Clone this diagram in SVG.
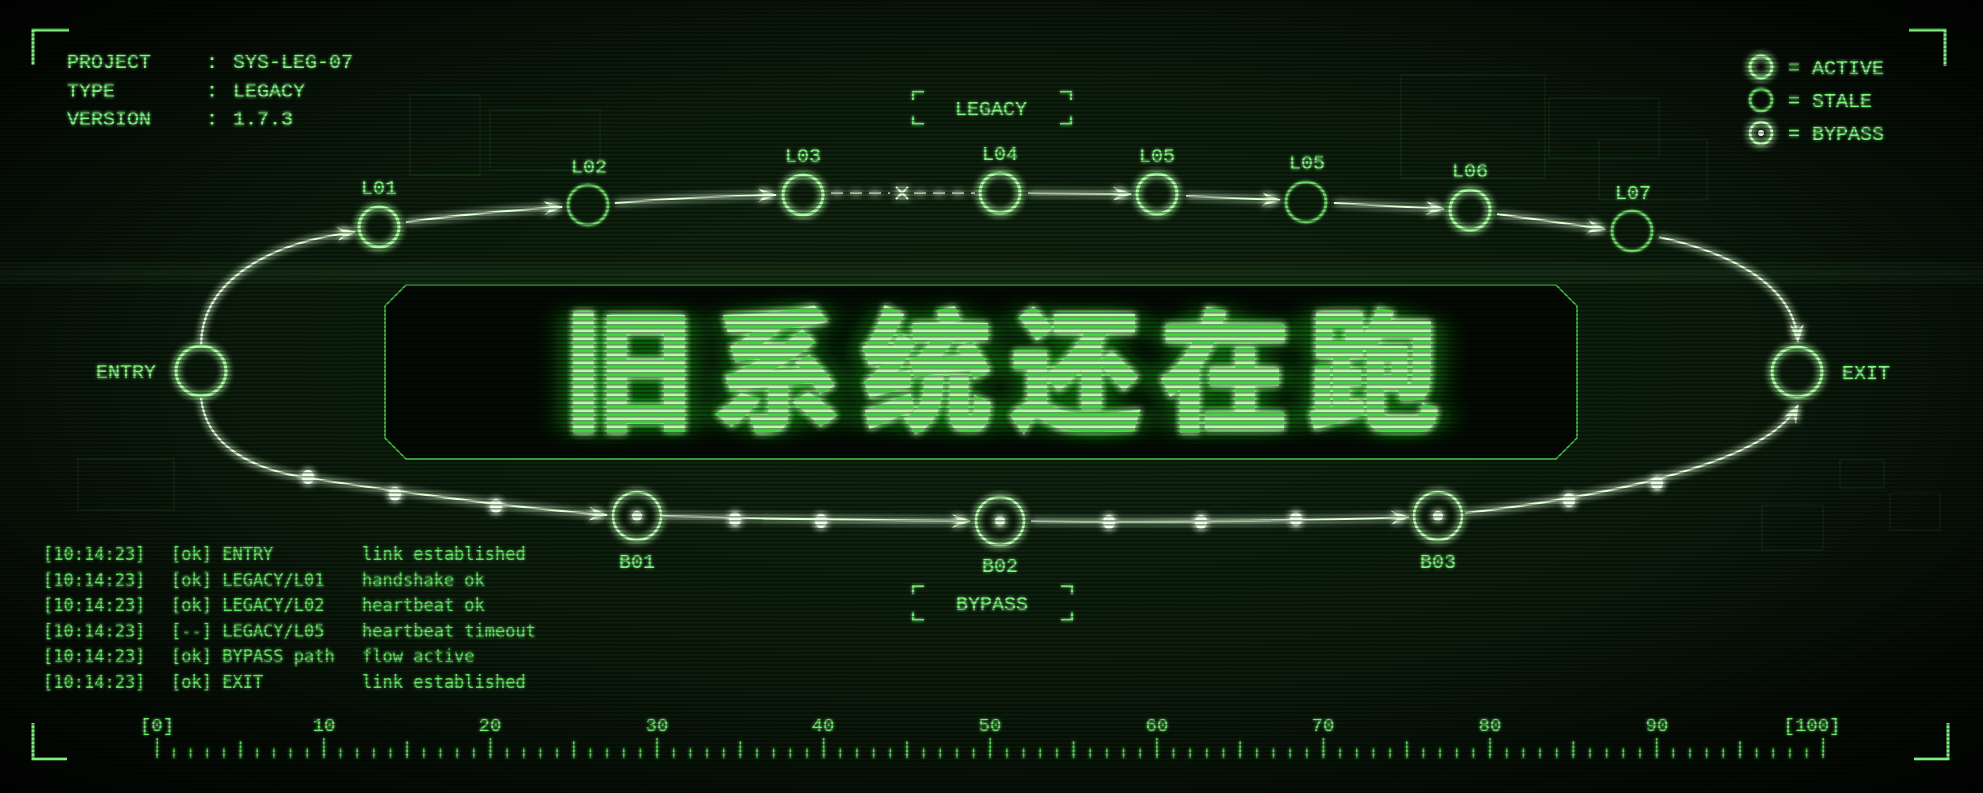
<svg xmlns="http://www.w3.org/2000/svg" width="1983" height="793" viewBox="0 0 1983 793">
<style>
.lbl{font-family:"Liberation Mono","DejaVu Sans Mono",monospace;font-size:20px;fill:#7ff77f}
.mid{text-anchor:middle}
.end{text-anchor:end}
.log{font-family:"DejaVu Sans Mono","Liberation Mono",monospace;font-size:17px;fill:#62e262}
.rl{font-family:"Liberation Mono","DejaVu Sans Mono",monospace;font-size:19px;fill:#6fe86f;text-anchor:middle}
.act{fill:none;stroke:#a8ffa0;stroke-width:3}
.stale{fill:none;stroke:#6cd866;stroke-width:2.6}
.byp{fill:none;stroke:#bbffb3;stroke-width:2.6}
.core{fill:#e0ffda}
.wire{fill:none;stroke:#dcffd4;stroke-width:2.2}
.dash{stroke-dasharray:12 7}
.dot{fill:#eaffe6}
.brk{fill:none;stroke:#6fe86f;stroke-width:2}
.corner{fill:none;stroke:#7ef07e;stroke-width:3}
.ghost{fill:none;stroke:#2f6a2f;stroke-width:1.5;opacity:.25}
.tick{fill:none;stroke:#55d455}
</style>
<defs>
<radialGradient id="bgGrad" cx=".5" cy=".45" r=".6">
<stop offset="0" stop-color="#11280f"/>
<stop offset=".7" stop-color="#0b1c0b"/>
<stop offset="1" stop-color="#071207"/>
</radialGradient>
<radialGradient id="vig" cx=".5" cy=".5" r=".72">
<stop offset=".55" stop-color="#000" stop-opacity="0"/>
<stop offset=".85" stop-color="#000" stop-opacity=".45"/>
<stop offset="1" stop-color="#000" stop-opacity=".95"/>
</radialGradient>
<pattern id="scan" width="4" height="4" patternUnits="userSpaceOnUse">
<rect width="4" height="1.6" fill="#000" opacity=".4"/>
</pattern>
<pattern id="tstripe" width="10" height="8" patternUnits="userSpaceOnUse">
<rect width="10" height="8" fill="#38dc38"/>
<rect width="10" height="5.5" fill="#b4ffa8"/>
</pattern>
<filter id="glow" filterUnits="userSpaceOnUse" x="0" y="0" width="1983" height="793">
<feGaussianBlur in="SourceGraphic" stdDeviation="3.5" result="b"/>
<feMerge><feMergeNode in="b"/><feMergeNode in="b"/><feMergeNode in="SourceGraphic"/></feMerge>
</filter>
<filter id="soft" filterUnits="userSpaceOnUse" x="0" y="0" width="1983" height="793">
<feGaussianBlur in="SourceGraphic" stdDeviation="1.6" result="b"/>
<feMerge><feMergeNode in="b"/><feMergeNode in="SourceGraphic"/></feMerge>
</filter>
<filter id="tglow" filterUnits="userSpaceOnUse" x="0" y="0" width="1983" height="793">
<feGaussianBlur in="SourceAlpha" stdDeviation="18 9" result="a"/>
<feFlood flood-color="#1fe01f" flood-opacity="1"/>
<feComposite in2="a" operator="in" result="halo"/>
<feGaussianBlur in="SourceGraphic" stdDeviation="3" result="b"/>
<feMerge><feMergeNode in="halo"/><feMergeNode in="b"/><feMergeNode in="b"/><feMergeNode in="SourceGraphic"/></feMerge>
</filter>
<marker id="arr" viewBox="-20 -10 22 20" refX="0" refY="0" markerWidth="22" markerHeight="20" markerUnits="userSpaceOnUse" orient="auto">
<path d="M1,0 L-18,-7 L-11,0 L-18,7 Z" fill="#dcffd4"/>
</marker>
</defs>

<g id="background">
<rect width="1983" height="793" fill="#081508"/>
<rect width="1983" height="793" fill="url(#bgGrad)"/>
<rect x="410" y="95" width="70" height="80" class="ghost"/>
<rect x="490" y="110" width="110" height="60" class="ghost"/>
<rect x="1401" y="75" width="144" height="103" class="ghost"/>
<rect x="1549" y="98" width="110" height="60" class="ghost"/>
<rect x="1599" y="140" width="108" height="60" class="ghost"/>
<rect x="78" y="459" width="96" height="51" class="ghost"/>
<rect x="1840" y="460" width="44" height="28" class="ghost"/>
<rect x="1890" y="493" width="50" height="37" class="ghost"/>
<rect x="1762" y="505" width="61" height="45" class="ghost"/>
<rect x="0" y="262" width="1983" height="22" fill="#2f5f2f" opacity=".16"/>
<rect x="0" y="272" width="1983" height="2" fill="#4a8a4a" opacity=".15"/>
<rect width="1983" height="793" fill="url(#vig)"/>
</g>

<g id="hud">
<path class="corner" d="M33,65 V30 H69"/>
<path class="corner" d="M1909,30 H1945 V66"/>
<path class="corner" d="M33,723 V759 H67"/>
<path class="corner" d="M1948,723 V759 H1914"/>
<g class="lbl" filter="url(#soft)">
<text x="67" y="68">PROJECT</text><text x="206" y="68">:</text><text x="233" y="68">SYS-LEG-07</text>
<text x="67" y="97">TYPE</text><text x="206" y="97">:</text><text x="233" y="97">LEGACY</text>
<text x="67" y="125">VERSION</text><text x="206" y="125">:</text><text x="233" y="125">1.7.3</text>
</g>
</g>

<g id="legend">
<circle cx="1761" cy="67" r="11" class="act" stroke-width="2.5" filter="url(#glow)"/>
<circle cx="1761" cy="100" r="11" class="stale" stroke-width="2.2" filter="url(#soft)"/>
<circle cx="1761" cy="133" r="11" class="byp" stroke-width="2.2" filter="url(#glow)"/>
<circle cx="1761" cy="133" r="3" class="core"/>
<g class="lbl" filter="url(#soft)">
<text x="1788" y="74">= ACTIVE</text>
<text x="1788" y="107">= STALE</text>
<text x="1788" y="140">= BYPASS</text>
</g>
</g>

<g id="group-legacy" filter="url(#soft)">
<path class="brk" d="M924,92 H913 V100 M1060,92 H1071 V100 M913,116 V124 H924 M1071,116 V124 H1060"/>
<text class="lbl mid" x="991" y="115">LEGACY</text>
</g>
<g id="group-bypass" filter="url(#soft)">
<path class="brk" d="M924,586 H913 V594 M1061,586 H1072 V594 M913,612 V620 H924 M1072,612 V620 H1061"/>
<text class="lbl mid" x="992" y="610">BYPASS</text>
</g>

<g id="title">
<polygon points="406,285 1556,285 1577,306 1577,438 1556,459 406,459 385,438 385,306" fill="#020702" fill-opacity=".9" stroke="#45c845" stroke-width="1.6"/>
<text x="563" y="420" font-family="'Noto Sans CJK SC','Noto Sans CJK TC',sans-serif" font-weight="900" font-size="132" letter-spacing="17" fill="url(#tstripe)" filter="url(#tglow)">旧系统还在跑</text>
</g>

<g id="connectors" filter="url(#glow)">
<path class="wire" d="M201,346 C201,285 262,243 355,232" marker-end="url(#arr)"/>
<path class="wire" d="M406,222 Q480,212 562,207" marker-end="url(#arr)"/>
<path class="wire" d="M615,203 Q700,196 776,195" marker-end="url(#arr)"/>
<path class="wire dash" d="M831,193 H890"/>
<path class="wire" d="M896,187 L908,199 M908,187 L896,199"/>
<path class="wire dash" d="M914,193 H975"/>
<path class="wire" d="M1028,193 L1131,194" marker-end="url(#arr)"/>
<path class="wire" d="M1186,196 L1280,200" marker-end="url(#arr)"/>
<path class="wire" d="M1334,203 L1444,209" marker-end="url(#arr)"/>
<path class="wire" d="M1497,214 L1605,229" marker-end="url(#arr)"/>
<path class="wire" d="M1659,237 C1740,255 1795,290 1798,342" marker-end="url(#arr)"/>
<path class="wire" d="M201,398 C206,445 250,469 308,478 S520,509 607,515" marker-end="url(#arr)"/>
<path class="wire" d="M661,516 Q820,520 970,521" marker-end="url(#arr)"/>
<path class="wire" d="M1031,521 Q1250,523 1409,517" marker-end="url(#arr)"/>
<path class="wire" d="M1465,513 C1620,495 1770,460 1798,405" marker-end="url(#arr)"/>
<ellipse class="dot" cx="308" cy="477" rx="6" ry="7"/>
<ellipse class="dot" cx="395" cy="494" rx="6" ry="7"/>
<ellipse class="dot" cx="496" cy="506" rx="6" ry="7"/>
<ellipse class="dot" cx="735" cy="519" rx="6" ry="7"/>
<ellipse class="dot" cx="821" cy="521" rx="6" ry="7"/>
<ellipse class="dot" cx="1109" cy="522" rx="6" ry="7"/>
<ellipse class="dot" cx="1201" cy="522" rx="6" ry="7"/>
<ellipse class="dot" cx="1296" cy="519" rx="6" ry="7"/>
<ellipse class="dot" cx="1569" cy="500" rx="6" ry="7"/>
<ellipse class="dot" cx="1657" cy="483" rx="6" ry="7"/>
</g>

<g id="node-ENTRY">
<circle cx="201" cy="371" r="25" class="act" filter="url(#glow)"/>
<text class="lbl end" x="156" y="378" filter="url(#soft)">ENTRY</text>
</g>
<g id="node-EXIT">
<circle cx="1797" cy="372" r="25" class="act" filter="url(#glow)"/>
<text class="lbl" x="1842" y="379" filter="url(#soft)">EXIT</text>
</g>
<g id="node-L01">
<circle cx="379" cy="227" r="20" class="act" filter="url(#glow)"/>
<text class="lbl mid" x="379" y="194" filter="url(#soft)">L01</text>
</g>
<g id="node-L02">
<circle cx="588" cy="205" r="20" class="stale" filter="url(#soft)"/>
<text class="lbl mid" x="589" y="173" filter="url(#soft)">L02</text>
</g>
<g id="node-L03">
<circle cx="803" cy="195" r="20" class="act" filter="url(#glow)"/>
<text class="lbl mid" x="803" y="162" filter="url(#soft)">L03</text>
</g>
<g id="node-L04">
<circle cx="1000" cy="193" r="20" class="act" filter="url(#glow)"/>
<text class="lbl mid" x="1000" y="160" filter="url(#soft)">L04</text>
</g>
<g id="node-L05a">
<circle cx="1157" cy="194" r="20" class="act" filter="url(#glow)"/>
<text class="lbl mid" x="1157" y="162" filter="url(#soft)">L05</text>
</g>
<g id="node-L05b">
<circle cx="1306" cy="202" r="20" class="stale" filter="url(#soft)"/>
<text class="lbl mid" x="1307" y="169" filter="url(#soft)">L05</text>
</g>
<g id="node-L06">
<circle cx="1470" cy="210" r="20" class="act" filter="url(#glow)"/>
<text class="lbl mid" x="1470" y="177" filter="url(#soft)">L06</text>
</g>
<g id="node-L07">
<circle cx="1632" cy="231" r="20" class="stale" filter="url(#soft)"/>
<text class="lbl mid" x="1633" y="199" filter="url(#soft)">L07</text>
</g>
<g id="node-B01">
<circle cx="637" cy="516" r="24" class="byp" filter="url(#glow)"/>
<circle cx="637" cy="516" r="5" class="core" filter="url(#glow)"/>
<text class="lbl mid" x="637" y="568" filter="url(#soft)">B01</text>
</g>
<g id="node-B02">
<circle cx="1000" cy="521" r="24" class="byp" filter="url(#glow)"/>
<circle cx="1000" cy="521" r="5" class="core" filter="url(#glow)"/>
<text class="lbl mid" x="1000" y="572" filter="url(#soft)">B02</text>
</g>
<g id="node-B03">
<circle cx="1438" cy="516" r="24" class="byp" filter="url(#glow)"/>
<circle cx="1438" cy="516" r="5" class="core" filter="url(#glow)"/>
<text class="lbl mid" x="1438" y="568" filter="url(#soft)">B03</text>
</g>

<g id="log" class="log" filter="url(#soft)">
<text x="43" y="560">[10:14:23]</text><text x="171" y="560">[ok] ENTRY</text><text x="362" y="560">link established</text>
<text x="43" y="586">[10:14:23]</text><text x="171" y="586">[ok] LEGACY/L01</text><text x="362" y="586">handshake ok</text>
<text x="43" y="611">[10:14:23]</text><text x="171" y="611">[ok] LEGACY/L02</text><text x="362" y="611">heartbeat ok</text>
<text x="43" y="637">[10:14:23]</text><text x="171" y="637">[--] LEGACY/L05</text><text x="362" y="637">heartbeat timeout</text>
<text x="43" y="662">[10:14:23]</text><text x="171" y="662">[ok] BYPASS path</text><text x="362" y="662">flow active</text>
<text x="43" y="688">[10:14:23]</text><text x="171" y="688">[ok] EXIT</text><text x="362" y="688">link established</text>
</g>

<g id="ruler" filter="url(#soft)">
<path class="tick" d="M156.5,753 H1825" stroke-width="10" stroke-dasharray="1.5 15.16"/>
<path class="tick" d="M239.8,749.5 H1742" stroke-width="17" stroke-dasharray="1.5 165.1"/>
<path class="tick" d="M156.5,748 H1825" stroke-width="20" stroke-dasharray="1.5 165.1"/>
<text class="rl" x="157" y="731">[0]</text>
<text class="rl" x="324" y="731">10</text>
<text class="rl" x="490" y="731">20</text>
<text class="rl" x="657" y="731">30</text>
<text class="rl" x="823" y="731">40</text>
<text class="rl" x="990" y="731">50</text>
<text class="rl" x="1157" y="731">60</text>
<text class="rl" x="1323" y="731">70</text>
<text class="rl" x="1490" y="731">80</text>
<text class="rl" x="1657" y="731">90</text>
<text class="rl" x="1812" y="731">[100]</text>
</g>

<rect id="scanlines" width="1983" height="793" fill="url(#scan)" pointer-events="none"/>
</svg>
